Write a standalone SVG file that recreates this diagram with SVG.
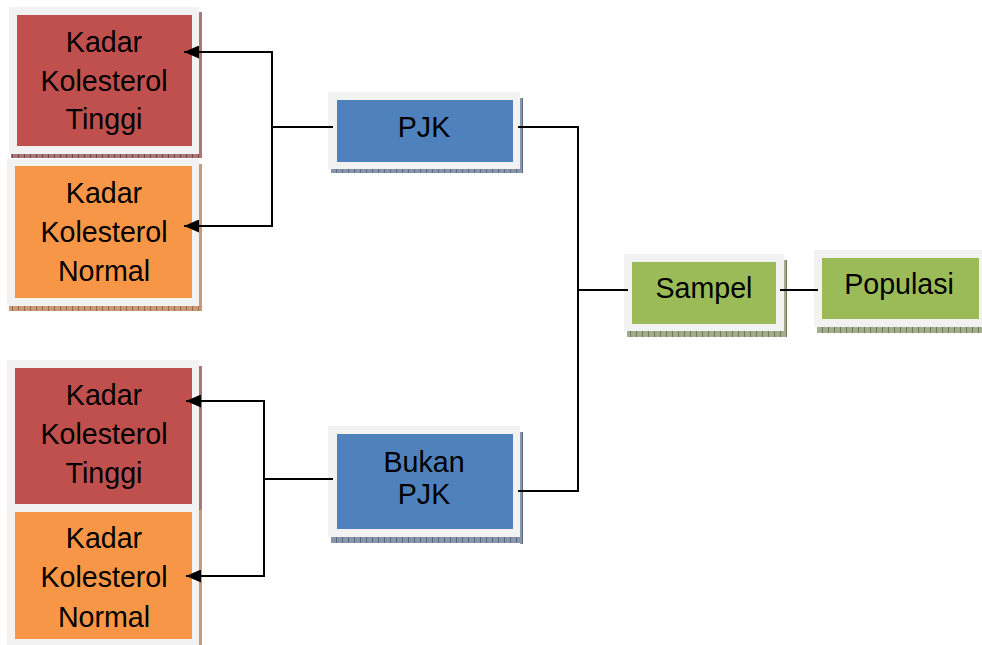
<svg xmlns="http://www.w3.org/2000/svg" width="982" height="645" viewBox="0 0 982 645">
<defs>
<pattern id="shR" width="6" height="6" patternUnits="userSpaceOnUse"><rect width="6" height="6" fill="#a87878"/><rect width="1" height="6" fill="#7a4a4a"/></pattern>
<pattern id="shO" width="6" height="6" patternUnits="userSpaceOnUse"><rect width="6" height="6" fill="#c89a78"/><rect width="1" height="6" fill="#9a6a4a"/></pattern>
<pattern id="shB" width="6" height="6" patternUnits="userSpaceOnUse"><rect width="6" height="6" fill="#8896ab"/><rect width="1" height="6" fill="#5a6a80"/></pattern>
<pattern id="shG" width="6" height="6" patternUnits="userSpaceOnUse"><rect width="6" height="6" fill="#a3ad8e"/><rect width="1" height="6" fill="#6f7a5a"/></pattern>
<marker id="arr" markerUnits="userSpaceOnUse" markerWidth="16" markerHeight="13" refX="15" refY="6.5" orient="auto"><path d="M0,0 L15,6.5 L0,13 z" fill="#000"/></marker>
</defs>
<style>
.frame{fill:#f2f2f2}
.red{fill:#c0504d}
.org{fill:#f79646}
.blu{fill:#4f81bd}
.grn{fill:#9bbb59}
text{font-family:"Liberation Sans",Arial,sans-serif;font-size:28.6px;fill:#000;text-anchor:middle}
.ln{fill:none;stroke:#000;stroke-width:2}
</style>
<g id="tinggi1">
<rect x="199" y="12" width="3" height="146" fill="url(#shR)"/>
<rect x="11" y="154" width="191" height="4" fill="url(#shR)"/>
<rect class="frame" x="9" y="7" width="190" height="147"/>
<rect class="red" x="17" y="15" width="175" height="131"/>
<text x="104" y="52">Kadar</text>
<text x="104" y="90.5">Kolesterol</text>
<text x="104" y="129">Tinggi</text>
</g>
<g id="normal1">
<rect x="199" y="164" width="3" height="147" fill="url(#shO)"/>
<rect x="9" y="306" width="193" height="5" fill="url(#shO)"/>
<rect class="frame" x="7" y="159" width="192" height="147"/>
<rect class="org" x="15" y="166" width="177" height="132"/>
<text x="104" y="203">Kadar</text>
<text x="104" y="242">Kolesterol</text>
<text x="104" y="281">Normal</text>
</g>
<g id="bottomgroup">
<rect x="199" y="366" width="3" height="144" fill="url(#shR)"/>
<rect x="199" y="510" width="3" height="135" fill="url(#shO)"/>
<rect class="frame" x="7" y="360" width="192" height="285"/>
</g>
<g id="tinggi2">
<rect class="red" x="15" y="368" width="177" height="136"/>
<text x="104" y="405">Kadar</text>
<text x="104" y="444">Kolesterol</text>
<text x="104" y="483">Tinggi</text>
</g>
<g id="normal2">
<rect class="org" x="15" y="512" width="177" height="127"/>
<text x="104" y="548">Kadar</text>
<text x="104" y="587">Kolesterol</text>
<text x="104" y="627">Normal</text>
</g>
<g id="pjk">
<rect x="520" y="98" width="3" height="75" fill="url(#shB)"/>
<rect x="331" y="169" width="192" height="4" fill="url(#shB)"/>
<rect class="frame" x="328" y="92" width="192" height="77"/>
<rect class="blu" x="337" y="100" width="176" height="62"/>
<text x="424" y="137">PJK</text>
</g>
<g id="bukanpjk">
<rect x="520" y="432" width="3" height="112" fill="url(#shB)"/>
<rect x="331" y="537" width="192" height="6" fill="url(#shB)"/>
<rect class="frame" x="328" y="426" width="192" height="111"/>
<rect class="blu" x="337" y="434" width="176" height="95"/>
<text x="424" y="472">Bukan</text>
<text x="424" y="504">PJK</text>
</g>
<g id="sampel">
<rect x="784" y="260" width="3" height="77" fill="url(#shG)"/>
<rect x="627" y="331" width="160" height="6" fill="url(#shG)"/>
<rect class="frame" x="624" y="254" width="160" height="77"/>
<rect class="grn" x="632" y="262" width="144" height="62"/>
<text x="704" y="298">Sampel</text>
</g>
<g id="populasi">
<rect x="817" y="327" width="165" height="6" fill="url(#shG)"/>
<rect class="frame" x="814" y="250" width="168" height="77"/>
<rect class="grn" x="822" y="258" width="157" height="61"/>
<text x="899" y="294">Populasi</text>
</g>
<g id="connectors">
<path class="ln" d="M333,127 H272"/>
<path class="ln" d="M272,127 V52 H184" marker-end="url(#arr)"/>
<path class="ln" d="M272,127 V226 H184" marker-end="url(#arr)"/>
<path class="ln" d="M333,479 H264"/>
<path class="ln" d="M264,479 V401 H186" marker-end="url(#arr)"/>
<path class="ln" d="M264,479 V576 H186" marker-end="url(#arr)"/>
<path class="ln" d="M518,127 H578 V491 H518"/>
<path class="ln" d="M578,290 H628"/>
<path class="ln" d="M780,290 H818"/>
</g>
</svg>
